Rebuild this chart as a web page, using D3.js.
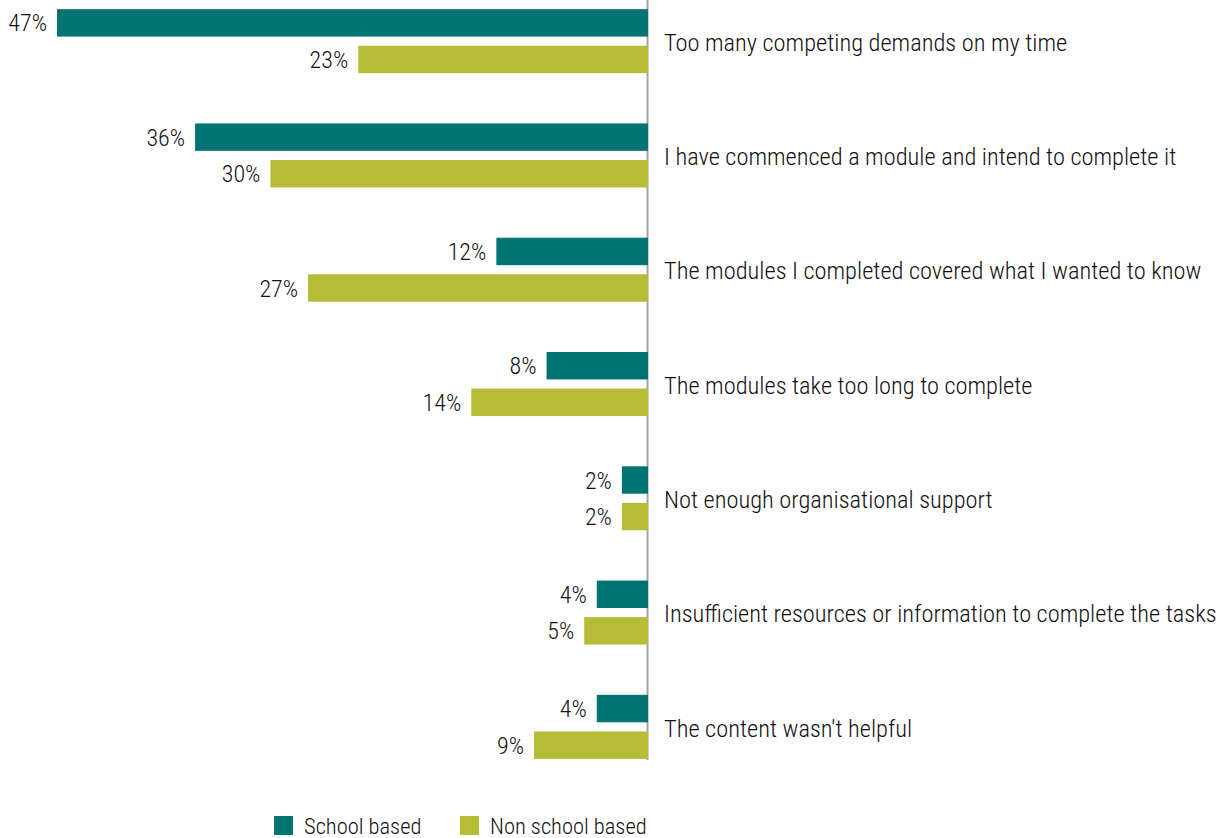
<!DOCTYPE html>
<html>
<head>
<meta charset="utf-8">
<script src="https://cdn.jsdelivr.net/npm/d3@7"></script>
<style>
  html, body { margin: 0; padding: 0; background: #fff; }
  svg text { font-family: "Liberation Sans Narrow", "Roboto Condensed", "Liberation Sans", sans-serif; font-weight: 300; fill: #111; }
</style>
</head>
<body>
<svg id="chart" width="1222" height="838"></svg>
<script>
const categories = [
  "Too many competing demands on my time",
  "I have commenced a module and intend to complete it",
  "The modules I completed covered what I wanted to know",
  "The modules take too long to complete",
  "Not enough organisational support",
  "Insufficient resources or information to complete the tasks",
  "The content wasn't helpful"
];
const schoolBased = [47, 36, 12, 8, 2, 4, 4];
const nonSchoolBased = [23, 30, 27, 14, 2, 5, 9];
const seriesNames = ["School based", "Non school based"];
const seriesColors = ["#007472", "#b5bd36"];

const svg = d3.select("#chart");
const baseX = 647;

const x = d3.scaleLinear().domain([0, 47]).range([baseX, 57]);
const y = d3.scaleBand().domain(categories).range([-16, 784]).paddingInner(0.44).paddingOuter(0.22);
const inner = d3.scaleBand().domain(seriesNames).range([0, y.bandwidth()]).paddingInner(0.25);

// vertical baseline
svg.append("line")
  .attr("x1", baseX + 0.5).attr("x2", baseX + 0.5)
  .attr("y1", 0).attr("y2", 760)
  .attr("stroke", "#a6a6a6").attr("stroke-width", 2);

const groups = svg.selectAll("g.group")
  .data(categories.map((c, i) => ({ c, vals: [schoolBased[i], nonSchoolBased[i]] })))
  .join("g").attr("class", "group")
  .attr("transform", d => `translate(0,${y(d.c)})`);

groups.selectAll("rect")
  .data(d => d.vals.map((v, j) => ({ v, s: seriesNames[j], j })))
  .join("rect")
  .attr("x", d => x(d.v))
  .attr("width", d => x(0) - x(d.v) + 1)
  .attr("y", d => inner(d.s))
  .attr("height", inner.bandwidth())
  .attr("fill", d => seriesColors[d.j]);

groups.selectAll("text.val")
  .data(d => d.vals.map((v, j) => ({ v, s: seriesNames[j] })))
  .join("text").attr("class", "val")
  .attr("x", d => x(d.v) - 10)
  .attr("y", d => inner(d.s) + inner.bandwidth() / 2)
  .attr("dy", "0.36em")
  .attr("text-anchor", "end")
  .attr("font-size", 24)
  .text(d => d.v + "%");

groups.append("text")
  .attr("x", 664)
  .attr("y", y.bandwidth() / 2 + 1)
  .attr("dy", "0.36em")
  .attr("font-size", 24.4)
  .text(d => d.c);

// legend
const legend = svg.append("g").attr("transform", "translate(0,816)");
const legendX = [274, 460];
seriesNames.forEach((name, i) => {
  legend.append("rect").attr("x", legendX[i]).attr("y", 0).attr("width", 19).attr("height", 19).attr("fill", seriesColors[i]);
  legend.append("text").attr("x", legendX[i] + 30).attr("y", 10).attr("dy", "0.36em").attr("font-size", 22.5).text(name);
});
</script>
</body>
</html>
